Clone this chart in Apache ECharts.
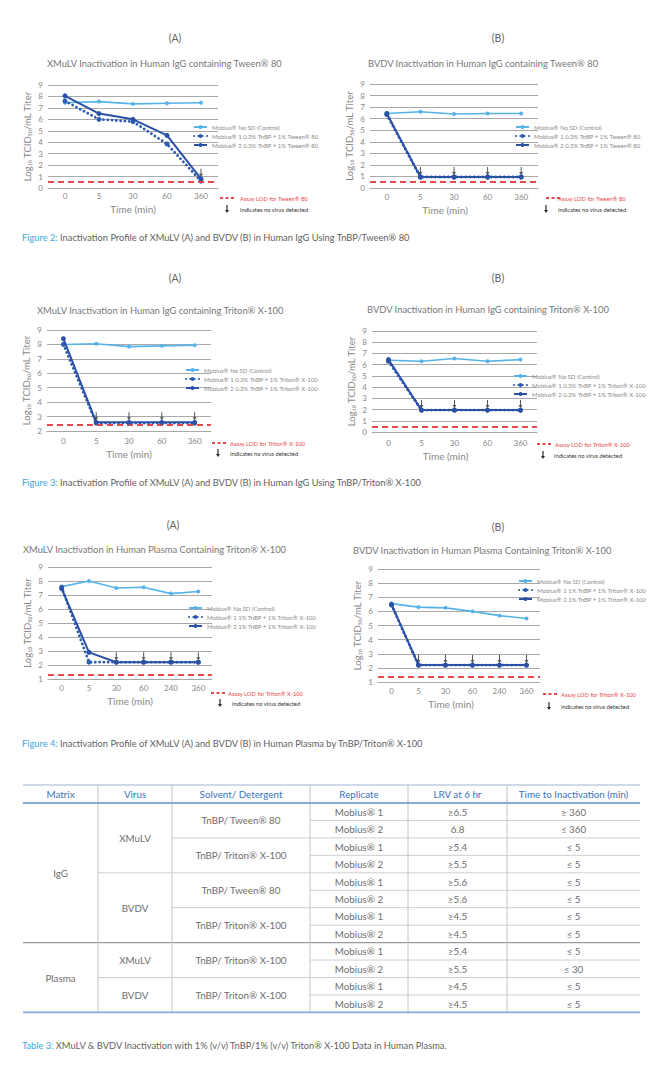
<!DOCTYPE html>
<html><head><meta charset="utf-8">
<script src="https://cdn.jsdelivr.net/npm/echarts@6/dist/echarts.min.js"></script>
<style>html,body{margin:0;padding:0;background:#fff}#c{width:660px;height:1080px}</style>
</head><body><div id="c"></div>
<script>
// ---------------- DATA ----------------
const timesShort = ['0', '5', '30', '60', '360'];
const timesLong = ['0', '5', '30', '60', '240', '360'];

const namesTween = ['Mobius® No SD (Control)', 'Mobius® 1 0.3% TnBP + 1% Tween® 80', 'Mobius® 2 0.3% TnBP + 1% Tween® 80'];
const namesTritonIgG = ['Mobius® No SD (Control)', 'Mobius® 1 0.3% TnBP + 1% Triton® X-100', 'Mobius® 2 0.3% TnBP + 1% Triton® X-100'];
const namesTritonPlasma = ['Mobius® No SD (Control)', 'Mobius® 1 1% TnBP + 1% Triton® X-100', 'Mobius® 2 1% TnBP + 1% Triton® X-100'];

// Figure 2A
const f2a_title = 'XMuLV Inactivation in Human IgG containing Tween® 80';
const f2a_control = [7.45, 7.55, 7.35, 7.4, 7.45];
const f2a_m1 = [7.6, 6.0, 5.8, 3.85, 0.6];
const f2a_m2 = [8.05, 6.5, 6.0, 4.6, 0.8];
const f2a_lod = 0.55;
const f2a_noVirus = [4];
// Figure 2B
const f2b_title = 'BVDV Inactivation in Human IgG containing Tween® 80';
const f2b_control = [6.45, 6.6, 6.4, 6.45, 6.45];
const f2b_m1 = [6.35, 0.95, 0.95, 0.95, 0.95];
const f2b_m2 = [6.45, 0.95, 0.95, 0.95, 0.95];
const f2b_lod = 0.55;
const f2b_noVirus = [1, 2, 3, 4];
// Figure 3A
const f3a_title = 'XMuLV Inactivation in Human IgG containing Triton® X-100';
const f3a_control = [8.0, 8.05, 7.85, 7.9, 7.95];
const f3a_m1 = [8.0, 2.55, 2.55, 2.55, 2.55];
const f3a_m2 = [8.4, 2.6, 2.6, 2.6, 2.6];
const f3a_lod = 2.45;
const f3a_noVirus = [1, 2, 3, 4];
// Figure 3B
const f3b_title = 'BVDV Inactivation in Human IgG containing Triton® X-100';
const f3b_control = [6.4, 6.3, 6.55, 6.3, 6.45];
const f3b_m1 = [6.3, 1.95, 1.95, 1.95, 1.95];
const f3b_m2 = [6.45, 1.95, 1.95, 1.95, 1.95];
const f3b_lod = 0.5;
const f3b_noVirus = [1, 2, 3, 4];
// Figure 4A
const f4a_title = 'XMuLV Inactivation in Human Plasma Containing Triton® X-100';
const f4a_control = [7.6, 8.0, 7.5, 7.55, 7.1, 7.25];
const f4a_m1 = [7.55, 2.2, 2.2, 2.2, 2.2, 2.2];
const f4a_m2 = [7.45, 2.9, 2.2, 2.2, 2.2, 2.2];
const f4a_lod = 1.3;
const f4a_noVirus = [2, 3, 4, 5];
// Figure 4B
const f4b_title = 'BVDV Inactivation in Human Plasma Containing Triton® X-100';
const f4b_control = [6.55, 6.3, 6.25, 6.0, 5.7, 5.5];
const f4b_m1 = [6.45, 2.2, 2.2, 2.2, 2.2, 2.2];
const f4b_m2 = [6.5, 2.2, 2.2, 2.2, 2.2, 2.2];
const f4b_lod = 1.35;
const f4b_noVirus = [1, 2, 3, 4, 5];

const lodTween = 'Assay LOD for Tween® 80';
const lodTriton = 'Assay LOD for Triton® X-100';
const noVirusText = 'indicates no virus detected';
const yName = 'Log₁₀ TCID₅₀/mL Titer';
const xName = 'Time (min)';

const captions = [
  ['Figure 2:', ' Inactivation Profile of XMuLV (A) and BVDV (B) in Human IgG Using TnBP/Tween® 80'],
  ['Figure 3:', ' Inactivation Profile of XMuLV (A) and BVDV (B) in Human IgG Using TnBP/Triton® X-100'],
  ['Figure 4:', ' Inactivation Profile of XMuLV (A) and BVDV (B) in Human Plasma by TnBP/Triton® X-100'],
  ['Table 3:', ' XMuLV & BVDV Inactivation with 1% (v/v) TnBP/1% (v/v) Triton® X-100 Data in Human Plasma.']
];

// Table data
const tblHeader = ['Matrix', 'Virus', 'Solvent/ Detergent', 'Replicate', 'LRV at 6 hr', 'Time to Inactivation (min)'];
const tblMatrix = [['IgG', 8], ['Plasma', 4]];
const tblVirus = [['XMuLV', 4], ['BVDV', 4], ['XMuLV', 2], ['BVDV', 2]];
const tblSolvent = [['TnBP/ Tween® 80', 2], ['TnBP/ Triton® X-100', 2], ['TnBP/ Tween® 80', 2], ['TnBP/ Triton® X-100', 2], ['TnBP/ Triton® X-100', 2], ['TnBP/ Triton® X-100', 2]];
const tblReplicate = ['Mobius® 1', 'Mobius® 2', 'Mobius® 1', 'Mobius® 2', 'Mobius® 1', 'Mobius® 2', 'Mobius® 1', 'Mobius® 2', 'Mobius® 1', 'Mobius® 2', 'Mobius® 1', 'Mobius® 2'];
const tblLRV = ['≥6.5', '6.8', '≥5.4', '≥5.5', '≥5.6', '≥5.6', '≥4.5', '≥4.5', '≥5.4', '≥5.5', '≥4.5', '≥4.5'];
const tblTime = ['≥ 360', '≤ 360', '≤ 5', '≤ 5', '≤ 5', '≤ 5', '≤ 5', '≤ 5', '≤ 5', '≤ 30', '≤ 5', '≤ 5'];

// ---------------- LAYOUT / STYLE ----------------
const FONT = 'Lato, "Open Sans", sans-serif';
const CTRL = '#56b3e8', M1 = '#2e5cb2', M2 = '#2a51a5', RED = '#e8474c';
const TXT = '#777', GRID = '#a9a9a9';

const charts = [
  { cats: timesShort, names: namesTween, title: f2a_title, control: f2a_control, m1: f2a_m1, m2: f2a_m2, lod: f2a_lod, nv: f2a_noVirus, lodText: lodTween,
    ymin: 0, grid: { left: 48, top: 85, width: 170, height: 103 }, titlePos: [47, 59], legendPos: [193, 124],
    lodL: [220, 240, 198], arrL: [227, 240, 209], xm: 4, xShift: 0, head: ['(A)', 175, 38] },
  { cats: timesShort, names: namesTween, title: f2b_title, control: f2b_control, m1: f2b_m1, m2: f2b_m2, lod: f2b_lod, nv: f2b_noVirus, lodText: lodTween,
    ymin: 0, grid: { left: 370, top: 84, width: 168, height: 104 }, titlePos: [368, 59], legendPos: [515, 124],
    lodL: [546, 558, 198], arrL: [546, 558, 209], xm: 5, xShift: 18, head: ['(B)', 498, 38] },
  { cats: timesShort, names: namesTritonIgG, title: f3a_title, control: f3a_control, m1: f3a_m1, m2: f3a_m2, lod: f3a_lod, nv: f3a_noVirus, lodText: lodTriton,
    ymin: 2, grid: { left: 47, top: 330, width: 164, height: 101 }, titlePos: [37, 306], legendPos: [185, 367],
    lodL: [212, 230, 443], arrL: [218, 230, 453], xm: 6, xShift: 0, head: ['(A)', 175, 278] },
  { cats: timesShort, names: namesTritonIgG, title: f3b_title, control: f3b_control, m1: f3b_m1, m2: f3b_m2, lod: f3b_lod, nv: f3b_noVirus, lodText: lodTriton,
    ymin: 0, grid: { left: 372, top: 331, width: 165, height: 101 }, titlePos: [367, 305], legendPos: [513, 373],
    lodL: [537, 555, 444], arrL: [543, 554, 455], xm: 7, xShift: 18, head: ['(B)', 498, 278] },
  { cats: timesLong, names: namesTritonPlasma, title: f4a_title, control: f4a_control, m1: f4a_m1, m2: f4a_m2, lod: f4a_lod, nv: f4a_noVirus, lodText: lodTriton,
    ymin: 1, grid: { left: 48, top: 567, width: 164, height: 112 }, titlePos: [23, 545], legendPos: [188, 605],
    lodL: [211, 228, 693], arrL: [220, 232, 703], xm: 5, xShift: 0, head: ['(A)', 173, 525] },
  { cats: timesLong, names: namesTritonPlasma, title: f4b_title, control: f4b_control, m1: f4b_m1, m2: f4b_m2, lod: f4b_lod, nv: f4b_noVirus, lodText: lodTriton,
    ymin: 1, grid: { left: 378, top: 569, width: 162, height: 113 }, titlePos: [353, 546], legendPos: [518, 578],
    lodL: [543, 561, 694], arrL: [549, 561, 706], xm: 5, xShift: 16, head: ['(B)', 498, 527] }
];
const captionY = [237, 482, 743, 1045];

const ARROW = 'path://M3,0 L5,0 L5,10 L8,10 L4,16 L0,10 L3,10 Z';

const option = { backgroundColor: '#fff', animation: false, title: [], grid: [], xAxis: [], yAxis: [], legend: [], series: [], graphic: [] };
const G = option.graphic;

function txt(x, y, text, o) {
  G.push({ type: 'text', x, y, silent: true, style: Object.assign({ text, fill: TXT, fontSize: 9, fontFamily: FONT, align: 'left', verticalAlign: 'middle' }, o || {}) });
}
function line(x1, y1, x2, y2, stroke, w, dash) {
  const st = { stroke, lineWidth: w };
  if (dash) st.lineDash = dash;
  G.push({ type: 'line', silent: true, shape: { x1, y1, x2, y2 }, style: st });
}
function arrowGlyph(x, y) {
  G.push({ type: 'polygon', silent: true,
    shape: { points: [[x - 0.6, y - 4], [x + 0.6, y - 4], [x + 0.6, y + 1], [x + 2, y + 1], [x, y + 4], [x - 2, y + 1], [x - 0.6, y + 1]] },
    style: { fill: '#2a2a2a' } });
}

charts.forEach((c, i) => {
  option.title.push({ text: c.title, left: c.titlePos[0], top: c.titlePos[1], padding: 0,
    textStyle: { fontSize: 9.4, color: TXT, fontWeight: 'normal', fontFamily: FONT } });
  option.grid.push(c.grid);
  option.xAxis.push({ type: 'category', gridIndex: i, data: c.cats, boundaryGap: true,
    axisLine: { show: true, lineStyle: { color: GRID } }, axisTick: { show: false },
    axisLabel: { fontSize: 8, color: '#888', margin: c.xm, fontFamily: FONT },
    name: xName, nameLocation: 'middle', nameGap: c.xm + 12,
    nameTextStyle: { fontSize: 10, color: '#888', fontFamily: FONT, padding: [0, c.xShift, 0, 0] } });
  option.yAxis.push({ type: 'value', gridIndex: i, min: c.ymin, max: 9, interval: 1,
    axisLine: { show: false }, axisTick: { show: false },
    splitLine: { lineStyle: { color: GRID, width: 1 } },
    axisLabel: { fontSize: 8, color: '#888', margin: 5, fontFamily: FONT },
    name: yName, nameLocation: 'middle', nameGap: 16,
    nameTextStyle: { fontSize: 9.5, color: '#888', fontFamily: FONT } });
  option.legend.push({ left: c.legendPos[0], top: c.legendPos[1], orient: 'vertical', selectedMode: false,
    itemWidth: 13, itemHeight: 5, itemGap: 3, padding: 0,
    textStyle: { fontSize: 6, color: '#8a8a8a', fontFamily: FONT }, data: c.names });
  option.series.push({ name: c.names[0], type: 'line', xAxisIndex: i, yAxisIndex: i, data: c.control,
    color: CTRL, symbol: 'circle', symbolSize: 4, lineStyle: { width: 1.6, color: CTRL }, itemStyle: { color: CTRL }, z: 3,
    markLine: { silent: true, symbol: 'none', label: { show: false },
      lineStyle: { color: RED, width: 2, type: [6, 4] }, data: [{ yAxis: c.lod }] } });
  option.series.push({ name: c.names[1], type: 'line', xAxisIndex: i, yAxisIndex: i, data: c.m1,
    color: M1, symbol: 'circle', symbolSize: 5, lineStyle: { width: 2.8, color: M1, type: [0.1, 4.2], cap: 'round' }, itemStyle: { color: M1 }, z: 4 });
  option.series.push({ name: c.names[2], type: 'line', xAxisIndex: i, yAxisIndex: i, data: c.m2,
    color: M2, symbol: 'circle', symbolSize: 5, lineStyle: { width: 2, color: M2 }, itemStyle: { color: M2 }, z: 5 });
  option.series.push({ name: 'no virus detected', type: 'scatter', xAxisIndex: i, yAxisIndex: i,
    data: c.nv.map(k => [k, Math.max(c.m1[k], c.m2[k])]),
    symbol: ARROW, symbolSize: [4, 8], symbolOffset: [0, -6], symbolKeepAspect: false,
    itemStyle: { color: '#2a2a2a' }, z: 6, silent: true });

  txt(c.head[1], c.head[2], c.head[0], { fontSize: 10.5, fill: '#666', align: 'center' });
  line(c.lodL[0], c.lodL[2], c.lodL[0] + 14, c.lodL[2], RED, 2, [3, 2.5]);
  txt(c.lodL[1], c.lodL[2], c.lodText, { fontSize: 5.8, fill: RED });
  arrowGlyph(c.arrL[0], c.arrL[2]);
  txt(c.arrL[1], c.arrL[2], noVirusText, { fontSize: 5.8, fill: '#333' });
});

const CAPF = 9.3;
captions.forEach((cp, k) => {
  G.push({ type: 'text', x: 22, y: captionY[k], silent: true,
    style: { text: '{b|' + cp[0] + '}{g|' + cp[1] + '}', fontSize: CAPF, fontFamily: FONT, verticalAlign: 'middle',
      rich: { b: { fill: '#3ea6e0', color: '#3ea6e0', fontSize: CAPF, fontFamily: FONT },
              g: { fill: '#5f5f5f', color: '#5f5f5f', fontSize: CAPF, fontFamily: FONT } } } });
});

// ---------------- TABLE ----------------
const cols = [23, 98, 172, 310, 408, 507, 640];
const tTop = 785, tHead = 803, rowH = 17.45;
const nRows = tblReplicate.length;
const tBottom = tHead + rowH * nRows;
const HEADC = '#3b73b9', BODYC = '#6e6e6e', TF = 9.8;
const mid = k => (cols[k] + cols[k + 1]) / 2;

tblHeader.forEach((h, k) => txt(mid(k), (tTop + tHead) / 2, h, { fontSize: TF, fill: HEADC, align: 'center' }));

function groups(list, col) {
  let r = 0; const bounds = [];
  list.forEach(([label, span]) => {
    txt(mid(col), tHead + rowH * (r + span / 2), label, { fontSize: TF, fill: BODYC, align: 'center' });
    r += span; bounds.push(r);
  });
  return bounds;
}
const bM = groups(tblMatrix, 0), bV = groups(tblVirus, 1), bS = groups(tblSolvent, 2);
for (let r = 0; r < nRows; r++) {
  const y = tHead + rowH * (r + 0.5);
  txt(mid(3), y, tblReplicate[r], { fontSize: TF, fill: BODYC, align: 'center' });
  txt(mid(4), y, tblLRV[r], { fontSize: TF, fill: BODYC, align: 'center' });
  txt(mid(5), y, tblTime[r], { fontSize: TF, fill: BODYC, align: 'center' });
}
for (let r = 1; r < nRows; r++) {
  const y = tHead + rowH * r;
  let startCol = 3, color = '#cfcfcf', w = 1;
  if (bM.includes(r)) { startCol = 0; color = '#9a9a9a'; w = 1.2; }
  else if (bV.includes(r)) startCol = 1;
  else if (bS.includes(r)) startCol = 2;
  line(cols[startCol], y, cols[6], y, color, w);
}
for (let k = 1; k < 6; k++) line(cols[k], tTop, cols[k], tBottom, '#c4c4c4', 1);
line(cols[0], tTop, cols[6], tTop, '#9fb3cf', 1);
line(cols[0], tHead, cols[6], tHead, '#86a9db', 1.8);
line(cols[0], tBottom, cols[6], tBottom, '#86a9db', 1.8);

const chart = echarts.init(document.getElementById('c'), null, { renderer: 'svg' });
chart.setOption(option);
</script>
</body></html>
